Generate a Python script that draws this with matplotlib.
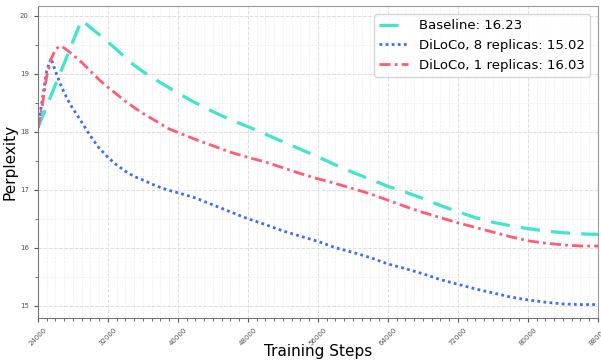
import numpy as np
import matplotlib
matplotlib.use("Agg")
import matplotlib.pyplot as plt
from matplotlib.ticker import MultipleLocator

# values
baseline_steps = [24000, 25000, 26000, 27000, 28000, 29000, 30000, 31000, 32000, 33000,
                  34000, 35000, 36000, 37000, 38000, 40000, 42000, 44000, 46000, 48000,
                  50000, 52000, 54000, 56000, 58000, 60000, 62000, 64000, 66000, 68000,
                  70000, 72000, 74000, 76000, 78000, 80000, 82000, 84000, 86000, 88000]
baseline_ppl = [18.07, 18.44, 18.81, 19.18, 19.56, 19.93, 19.80, 19.68, 19.55, 19.42,
                19.28, 19.15, 19.04, 18.95, 18.85, 18.67, 18.50, 18.35, 18.21, 18.09,
                17.96, 17.83, 17.70, 17.57, 17.43, 17.30, 17.18, 17.06, 16.96, 16.85,
                16.73, 16.62, 16.52, 16.44, 16.38, 16.33, 16.29, 16.26, 16.24, 16.23]

diloco8_steps = [24000, 24500, 25000, 25500, 26000, 26500, 27000, 27500, 28000, 29000,
                 30000, 31000, 32000, 33000, 34000, 35000, 36000, 37000, 38000, 39000,
                 40000, 42000, 44000, 46000, 48000, 50000, 52000, 54000, 56000, 58000,
                 60000, 62000, 64000, 66000, 68000, 70000, 72000, 74000, 76000, 78000,
                 80000, 82000, 84000, 86000, 88000]
diloco8_ppl = [18.07, 18.55, 19.05, 19.27, 19.05, 18.85, 18.68, 18.53, 18.40, 18.17,
               17.93, 17.72, 17.56, 17.43, 17.32, 17.23, 17.17, 17.10, 17.04, 16.99,
               16.95, 16.86, 16.74, 16.62, 16.50, 16.40, 16.29, 16.20, 16.11, 16.00,
               15.92, 15.83, 15.72, 15.64, 15.55, 15.45, 15.37, 15.29, 15.22, 15.15,
               15.10, 15.06, 15.03, 15.02, 15.02]

diloco1_steps = [24000, 24500, 25000, 25500, 26000, 26500, 27000, 28000, 29000, 30000,
                 31000, 32000, 33000, 34000, 35000, 36000, 37000, 38000, 39000, 40000,
                 42000, 44000, 46000, 48000, 50000, 52000, 54000, 56000, 58000, 60000,
                 62000, 64000, 66000, 68000, 70000, 72000, 74000, 76000, 78000, 80000,
                 82000, 84000, 86000, 88000]
diloco1_ppl = [18.07, 18.45, 18.95, 19.25, 19.42, 19.48, 19.45, 19.33, 19.20, 19.05,
               18.90, 18.77, 18.65, 18.53, 18.42, 18.32, 18.23, 18.14, 18.05, 17.99,
               17.87, 17.76, 17.65, 17.56, 17.48, 17.38, 17.28, 17.19, 17.11, 17.02,
               16.93, 16.82, 16.71, 16.61, 16.52, 16.43, 16.35, 16.27, 16.19, 16.12,
               16.08, 16.05, 16.03, 16.03]

labels = ["Baseline: 16.23", "DiLoCo, 8 replicas: 15.02", "DiLoCo, 1 replicas: 16.03"]

fig = plt.figure(figsize=(6.01, 3.6), dpi=100)
ax = fig.add_axes([0.063, 0.117, 0.932, 0.866])

ax.plot(baseline_steps, baseline_ppl, color="#40e6c8", linestyle=(0, (6, 3.5)), lw=2.3, label=labels[0])
ax.plot(diloco8_steps, diloco8_ppl, color="#3b6ff0", linestyle=(0, (1, 1.2)), lw=2.0, label=labels[1])
ax.plot(diloco1_steps, diloco1_ppl, color="#ff5c74", linestyle=(0, (4, 1.5, 1, 1.5)), lw=2.0, label=labels[2])

ax.set_xlim(24000, 88000)
ax.set_ylim(14.79, 20.17)
ax.xaxis.set_major_locator(MultipleLocator(8000))
ax.xaxis.set_minor_locator(MultipleLocator(1000))
ax.yaxis.set_major_locator(MultipleLocator(1))
ax.yaxis.set_minor_locator(MultipleLocator(0.5))
ax.tick_params(axis="x", labelsize=5, rotation=45, colors="#555555", length=3)
ax.tick_params(axis="y", labelsize=5, colors="#555555", length=3)
ax.tick_params(which="minor", length=2, colors="#555555")
for lab in ax.get_xticklabels():
    lab.set_ha("center")
ax.grid(which="major", color="#dddddd", linestyle="--", lw=0.7)
ax.grid(which="minor", color="#eeeeee", linestyle="--", lw=0.5)
for s in ax.spines.values():
    s.set_color("#999999")
ax.spines["left"].set_color("#777777")
ax.spines["bottom"].set_color("#777777")

ax.set_xlabel("Training Steps", fontsize=11)
ax.set_ylabel("Perplexity", fontsize=11)
ax.xaxis.set_label_coords(0.5, -0.085)
ax.yaxis.set_label_coords(-0.05, 0.5)
ax.xaxis.label.set_va("top")
ax.yaxis.label.set_va("center")
ax.legend(loc="upper right", fontsize=9.5, handlelength=2.2, framealpha=0.8,
          borderaxespad=0.6)

fig.savefig("out.png", dpi=100)
